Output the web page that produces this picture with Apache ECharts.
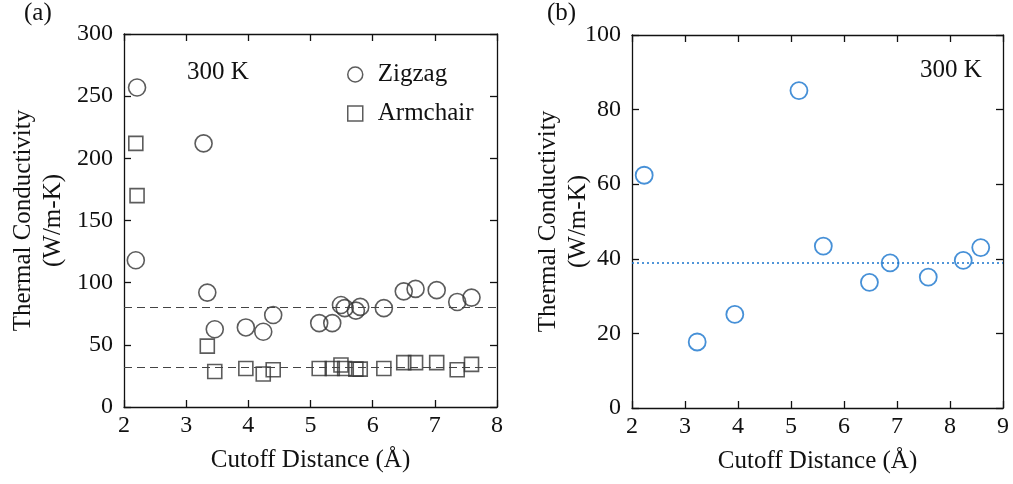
<!DOCTYPE html>
<html>
<head>
<meta charset="utf-8">
<script src="https://cdn.jsdelivr.net/npm/echarts@6/dist/echarts.min.js"></script>
<style>html,body{margin:0;padding:0;background:#fff}#c{width:1013px;height:484px}</style>
</head>
<body>
<div id="c"></div>
<script>
// ---- data (a) ----
const zigzagX = [2.21, 3.28, 2.19, 3.34, 3.46, 3.96, 4.24, 4.40, 5.14, 5.35, 5.49, 5.55, 5.73, 5.80, 6.18, 6.50, 6.69, 7.03, 7.36, 7.59];
const zigzagY = [257, 212, 118, 92, 62.5, 64, 60.5, 74, 67.5, 67.5, 82, 79.5, 77.5, 80.5, 79.5, 93, 95, 94, 84.5, 88];
const armchairX = [2.19, 2.21, 3.34, 3.46, 3.96, 4.24, 4.40, 5.14, 5.35, 5.49, 5.55, 5.73, 5.80, 6.18, 6.50, 6.69, 7.03, 7.36, 7.59];
const armchairY = [212, 170, 49, 28.5, 31, 26.5, 30, 31, 31, 33.8, 31, 30.5, 30.5, 31, 35.7, 35.7, 35.7, 30, 34.3];
const refLinesA = [80, 32];
// ---- data (b) ----
const bX = [2.23, 3.23, 3.94, 5.15, 5.61, 6.48, 6.87, 7.59, 8.25, 8.58];
const bY = [62.4, 17.7, 25.1, 85.1, 43.4, 33.7, 38.9, 35.1, 39.6, 43];
const refLineB = 38.9;
// tick labels
const xTicksA = [2, 3, 4, 5, 6, 7, 8];
const yTicksA = [0, 50, 100, 150, 200, 250, 300];
const xTicksB = [2, 3, 4, 5, 6, 7, 8, 9];
const yTicksB = [0, 20, 40, 60, 80, 100];

const pair = (xs, ys) => xs.map((x, i) => [x, ys[i]]);
const FONT = '"Liberation Serif", "Times New Roman", serif';
const dark = '#333333';
const blue = '#1874cd';
const ink = '#111';

function xAx(grid, ticks, pos, show, name) {
  return {
    type: 'value', gridIndex: grid, min: ticks[0], max: ticks[ticks.length - 1],
    interval: ticks[1] - ticks[0], position: pos,
    name: show ? name : '', nameLocation: 'middle', nameGap: 41, nameMoveOverlap: false,
    nameTextStyle: {fontFamily: FONT, fontSize: 25, color: ink},
    axisLine: {show: true, onZero: false, lineStyle: {color: ink, width: 1.3}},
    axisTick: {show: true, inside: true, length: 7, lineStyle: {color: ink, width: 1.3}},
    axisLabel: {show: show, fontFamily: FONT, fontSize: 24, color: ink, margin: 7},
    splitLine: {show: false}
  };
}
function yAx(grid, ticks, pos, show, gap) {
  return {
    type: 'value', gridIndex: grid, min: ticks[0], max: ticks[ticks.length - 1],
    interval: ticks[1] - ticks[0], position: pos,
    name: show ? 'Thermal Conductivity\n(W/m-K)' : '', nameLocation: 'middle', nameGap: gap, nameRotate: 90,
    nameMoveOverlap: false,
    nameTextStyle: {fontFamily: FONT, fontSize: 25, color: ink, lineHeight: 30},
    axisLine: {show: true, onZero: false, lineStyle: {color: ink, width: 1.3}},
    axisTick: {show: true, inside: true, length: 7, lineStyle: {color: ink, width: 1.3}},
    axisLabel: {show: show, fontFamily: FONT, fontSize: 24, color: ink, margin: 11},
    splitLine: {show: false}
  };
}

const chart = echarts.init(document.getElementById('c'), null, {renderer: 'canvas'});
chart.setOption({
  animation: false,
  backgroundColor: '#fff',
  grid: [
    {left: 124, top: 34, width: 373, height: 373},
    {left: 632, top: 35, width: 371, height: 373}
  ],
  xAxis: [
    xAx(0, xTicksA, 'bottom', true, 'Cutoff Distance (Å)'),
    xAx(0, xTicksA, 'top', false),
    xAx(1, xTicksB, 'bottom', true, 'Cutoff Distance (Å)'),
    xAx(1, xTicksB, 'top', false)
  ],
  yAxis: [
    yAx(0, yTicksA, 'left', true, 56),
    yAx(0, yTicksA, 'right', false, 0),
    yAx(1, yTicksB, 'left', true, 39),
    yAx(1, yTicksB, 'right', false, 0)
  ],
  legend: {
    left: 342, top: 57, orient: 'vertical', itemGap: 14, itemWidth: 15, itemHeight: 15,
    textStyle: {fontFamily: FONT, fontSize: 25, color: ink, padding: [0, 0, 0, 10]},
    data: [
      {name: 'Zigzag', icon: 'circle', itemStyle: {color: 'rgba(0,0,0,0)', borderColor: dark, borderWidth: 1.5}},
      {name: 'Armchair', icon: 'rect', itemStyle: {color: 'rgba(0,0,0,0)', borderColor: dark, borderWidth: 1.5}}
    ]
  },
  graphic: [
    {type: 'text', left: 24, top: 1, style: {text: '(a)', font: '25px ' + FONT, fill: ink}},
    {type: 'text', left: 547, top: 1, style: {text: '(b)', font: '25px ' + FONT, fill: ink}},
    {type: 'text', left: 187, top: 60, style: {text: '300 K', font: '25px ' + FONT, fill: ink}},
    {type: 'text', left: 920, top: 58, style: {text: '300 K', font: '25px ' + FONT, fill: ink}}
  ],
  series: [
    {
      name: 'Zigzag', type: 'scatter', xAxisIndex: 0, yAxisIndex: 0,
      data: pair(zigzagX, zigzagY), symbol: 'circle', symbolSize: 17,
      itemStyle: {color: 'rgba(0,0,0,0)', borderColor: dark, borderWidth: 1.6},
      markLine: {
        silent: true, symbol: 'none', label: {show: false},
        lineStyle: {color: '#444', type: [8, 5], width: 1},
        data: refLinesA.map(v => ({yAxis: v}))
      }
    },
    {
      name: 'Armchair', type: 'scatter', xAxisIndex: 0, yAxisIndex: 0,
      data: pair(armchairX, armchairY), symbol: 'rect', symbolSize: 14,
      itemStyle: {color: 'rgba(0,0,0,0)', borderColor: dark, borderWidth: 1.6}
    },
    {
      name: 'b', type: 'scatter', xAxisIndex: 2, yAxisIndex: 2,
      data: pair(bX, bY), symbol: 'circle', symbolSize: 17,
      itemStyle: {color: 'rgba(0,0,0,0)', borderColor: blue, borderWidth: 1.8},
      markLine: {
        silent: true, symbol: 'none', label: {show: false},
        lineStyle: {color: blue, type: [2, 3], width: 1.5},
        data: [{yAxis: refLineB}]
      }
    }
  ]
});
</script>
</body>
</html>
